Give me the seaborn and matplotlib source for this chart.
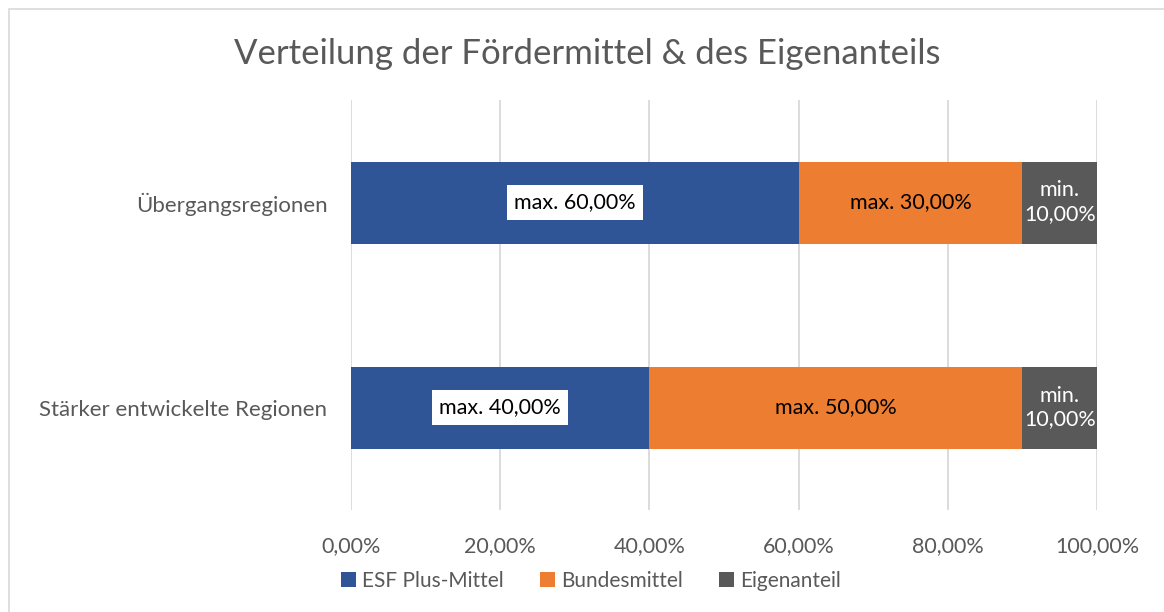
import matplotlib
matplotlib.use("Agg")
import matplotlib.pyplot as plt
import seaborn as sns
import pandas as pd
import numpy as np
from matplotlib.patches import Rectangle, Patch

categories = ["Übergangsregionen", "Stärker entwickelte Regionen"]
series_names = ["ESF Plus-Mittel", "Bundesmittel", "Eigenanteil"]
esf = [60.0, 40.0]
bund = [30.0, 50.0]
eigen = [10.0, 10.0]
label_prefix = ["max.", "max.", "min."]
x_ticks = [0, 20, 40, 60, 80, 100]
colors = ["#2F5597", "#ED7D31", "#595959"]
title = "Verteilung der Fördermittel & des Eigenanteils"


def pct(v):
    return f"{v:.2f}".replace(".", ",") + "%"


sns.set_theme(style="white")
plt.rcParams["font.family"] = ["Lato", "DejaVu Sans"]

fig = plt.figure(figsize=(11.64, 6.12), dpi=100)
ax = fig.add_axes([351/1164, 1-510/612, 746/1164, 410/612])

# outer chart frame
fig.patches.append(Rectangle((9/1164, -0.02), 1.2, 1-9/612+0.02, transform=fig.transFigure,
                             fill=False, edgecolor="#D9D9D9", linewidth=1.2, zorder=0))

df = pd.DataFrame({"cat": categories, "esf": esf, "bund": bund, "eigen": eigen})
df["c1"] = df["esf"]
df["c2"] = df["esf"] + df["bund"]
df["c3"] = df["c2"] + df["eigen"]

for col, color in zip(["c3", "c2", "c1"], colors[::-1]):
    sns.barplot(data=df, y="cat", x=col, color=color, width=0.4, orient="h",
                ax=ax, saturation=1, edgecolor="none", linewidth=0, zorder=2)

ax.set_xlim(0, 100)
ax.set_ylim(1.5, -0.5)
ax.set_xticks(x_ticks)
ax.set_xticklabels([pct(v) for v in x_ticks], fontsize=15.5, color="#595959")
ax.tick_params(axis="x", pad=19, length=0)
ax.tick_params(axis="y", pad=17, length=0, labelsize=16, labelcolor="#595959")
ax.set_xlabel("")
ax.set_ylabel("")
ax.grid(axis="x", color="#D9D9D9", linewidth=1.3, zorder=0)
ax.set_axisbelow(True)
for s in ax.spines.values():
    s.set_visible(False)

# data labels
for i, cat in enumerate(categories):
    e, b, g = esf[i], bund[i], eigen[i]
    ax.text(e/2, i, f"{label_prefix[0]} {pct(e)}", ha="center", va="center",
            fontsize=15.5, color="black", zorder=5,
            bbox=dict(boxstyle="square,pad=0.33", facecolor="white", edgecolor="none"))
    ax.text(e + b/2, i, f"{label_prefix[1]} {pct(b)}", ha="center", va="center",
            fontsize=15.5, color="black", zorder=5)
    ax.text(e + b + g/2, i, f"{label_prefix[2]}\n{pct(g)}", ha="center", va="center",
            fontsize=15.5, color="white", zorder=5, linespacing=1.25)

fig.text(587/1164, 1-54/612, title, ha="center", va="center", fontsize=25, color="#595959")

handles = [Patch(facecolor=c, edgecolor="none") for c in colors]
fig.legend(handles, series_names, loc="center", bbox_to_anchor=(591/1164, 1-581/612), ncol=3,
           frameon=False, fontsize=15, handlelength=0.75, handleheight=0.75, handletextpad=0.3,
           columnspacing=1.7, labelcolor="#595959")

fig.savefig("out.png", dpi=100)
